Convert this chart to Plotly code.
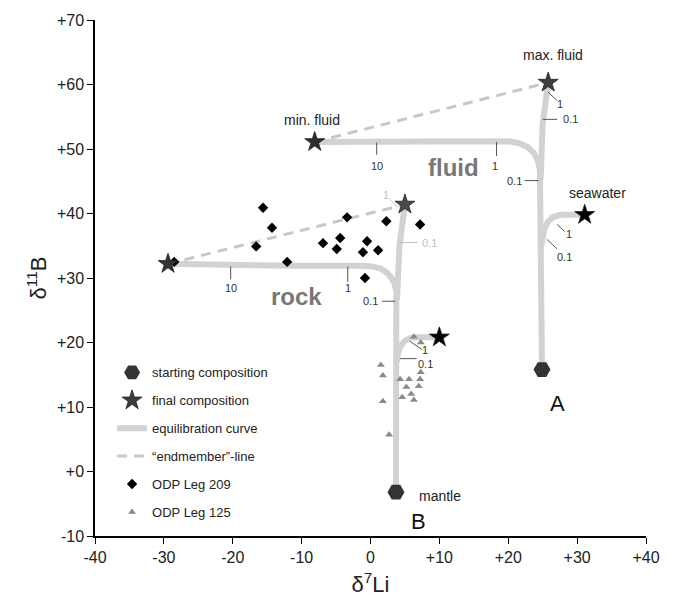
import plotly.graph_objects as go

FONT = "Liberation Sans, Arial, Helvetica, sans-serif"

# ---------------- data ----------------
x_ticks = [-40, -30, -20, -10, 0, 10, 20, 30, 40]
x_ticktext = ["-40", "-30", "-20", "-10", "0", "+10", "+20", "+30", "+40"]
y_ticks = [-10, 0, 10, 20, 30, 40, 50, 60, 70]
y_ticktext = ["-10", "+0", "+10", "+20", "+30", "+40", "+50", "+60", "+70"]

# equilibration curves
curveA_x = [24.9, 24.7, 24.7, 24.6, 24.3, 23.7, 22.8, 21.6, 20.2, 18.5, -8.1]
curveA_y = [15.8, 40.0, 45.3, 46.8, 48.2, 49.4, 50.3, 50.9, 51.15, 51.2, 51.1]
curveA_up_x = [24.7, 25.0, 25.8]
curveA_up_y = [45.3, 54.0, 60.3]
curveA_sea_x = [24.8, 24.9, 25.2, 25.7, 26.4, 27.6, 31.1]
curveA_sea_y = [35.0, 36.3, 37.5, 38.6, 39.4, 39.8, 39.8]

curveB_x = [3.7, 3.85, 3.85, 3.75, 3.5, 3.0, 2.3, 1.4, 0.2, -1.5, -12.0, -29.4]
curveB_y = [-3.2, 20.0, 26.6, 27.9, 29.1, 30.1, 30.9, 31.5, 31.8, 31.9, 31.9, 32.2]
curveB_up_x = [3.85, 4.2, 5.0]
curveB_up_y = [26.6, 35.0, 41.4]
curveB_br_x = [3.85, 3.95, 4.3, 4.9, 5.8, 6.8, 10.0]
curveB_br_y = [17.0, 18.2, 19.3, 20.2, 20.7, 20.8, 20.8]

# endmember lines
endA_x = [-8.1, 25.8]
endA_y = [51.1, 60.3]
endB_x = [-29.4, 5.0]
endB_y = [32.2, 41.4]

# starting compositions (hexagons)
start_x = [24.9, 3.7]
start_y = [15.8, -3.2]

# final compositions (stars)
final_x = [25.8, -8.1, 5.0, -29.4, 31.1, 10.0]
final_y = [60.3, 51.1, 41.4, 32.2, 39.8, 20.8]
final_col = ["#3d3d3d", "#2e2e2e", "#4a4a4a", "#333333", "#000000", "#000000"]

# ODP Leg 209 (diamonds)
leg209_x = [-15.6, -14.3, -16.6, -12.1, -6.9, -4.4, -4.9, -3.4, -0.5, -1.1, 1.1, 2.3, 7.2, -0.8, -28.5]
leg209_y = [40.9, 37.8, 34.9, 32.5, 35.4, 36.2, 34.5, 39.4, 35.7, 34.0, 34.3, 38.8, 38.3, 30.0, 32.5]

# ODP Leg 125 (triangles)
leg125_x = [6.3, 7.3, 1.5, 1.8, 4.3, 5.6, 7.2, 7.3, 5.2, 7.0, 5.9, 4.6, 6.3, 1.8, 2.7]
leg125_y = [20.9, 20.0, 16.5, 14.9, 14.3, 14.3, 14.3, 15.4, 13.1, 13.2, 12.0, 11.5, 11.1, 10.9, 5.7]

# small tick marks along curves (dark)
tick_x = [0.9, 0.9, None, 18.3, 18.3, None, 22.4, 24.4, None, 25.8, 27.1, None,
          25.0, 27.1, None, 27.1, 28.2, None, 25.6, 27.1, None,
          -20.3, -20.3, None, -3.3, -3.3, None, 1.7, 3.6, None,
          5.7, 7.5, None, 4.3, 6.7]
tick_y = [51.0, 49.1, None, 51.1, 48.9, None, 45.1, 45.1, None, 58.8, 57.5, None,
          54.6, 54.6, None, 38.3, 37.2, None, 36.0, 34.5, None,
          31.8, 29.8, None, 31.8, 29.4, None, 26.4, 26.4, None,
          20.2, 18.9, None, 17.5, 17.5]
# light tick marks (rock endmember)
ltick_x = [2.8, 4.0, None, 4.3, 6.9]
ltick_y = [42.2, 40.9, None, 35.5, 35.5]

# curve tick labels: text, x, y, anchor
tlab_text = ["10", "1", "0.1", "1", "0.1", "1", "0.1", "10", "1", "0.1", "1", "0.1"]
tlab_x = [0.9, 18.1, 22.3, 27.5, 27.6, 28.8, 28.2, -20.3, -3.3, 1.4, 7.9, 6.6]
tlab_y = [47.3, 47.3, 45.1, 57.0, 54.6, 36.9, 33.2, 28.5, 28.4, 26.4, 18.8, 16.7]
tlab_anchor = ["center", "center", "right", "center", "left", "center", "center",
               "center", "center", "right", "center", "left"]
ltlab_text = ["1", "0.1"]
ltlab_x = [2.2, 7.2]
ltlab_y = [42.9, 35.5]
ltlab_anchor = ["center", "left"]

# point labels
plab_text = ["max. fluid", "min. fluid", "seawater", "mantle"]
plab_x = [26.5, -4.1, 28.5, 6.8]
plab_y = [64.5, 54.5, 43.2, -3.8]
plab_anchor = ["center", "right", "left", "left"]

big_text = ["fluid", "rock"]
big_x = [12.0, -10.7]
big_y = [47.2, 27.1]

letter_text = ["A", "B"]
letter_x = [27.2, 6.9]
letter_y = [10.6, -7.8]

# ---------------- figure ----------------
CURVE = "#d2d2d2"
fig = go.Figure()

curves = [(curveA_x, curveA_y), (curveA_up_x, curveA_up_y), (curveA_sea_x, curveA_sea_y),
          (curveB_x, curveB_y), (curveB_up_x, curveB_up_y), (curveB_br_x, curveB_br_y)]
for i, (cx, cy) in enumerate(curves):
    fig.add_trace(go.Scatter(x=cx, y=cy, mode="lines",
                             line=dict(color=CURVE, width=6),
                             name="equilibration curve", legendgroup="curve",
                             showlegend=(i == 0), legendrank=3, hoverinfo="skip"))

for i, (ex, ey) in enumerate([(endA_x, endA_y), (endB_x, endB_y)]):
    fig.add_trace(go.Scatter(x=ex, y=ey, mode="lines",
                             line=dict(color="#c8c8c8", width=3, dash="10px,7px"),
                             name="\u201cendmember\u201d-line", legendgroup="end",
                             showlegend=(i == 0), legendrank=4, hoverinfo="skip"))

fig.add_trace(go.Scatter(x=tick_x, y=tick_y, mode="lines", line=dict(color="#555", width=1),
                         showlegend=False, hoverinfo="skip"))
fig.add_trace(go.Scatter(x=ltick_x, y=ltick_y, mode="lines", line=dict(color="#c4c4c4", width=1),
                         showlegend=False, hoverinfo="skip"))

fig.add_trace(go.Scatter(x=leg125_x, y=leg125_y, mode="markers",
                         marker=dict(symbol="triangle-up", size=7, color="#8a8a8a"),
                         name="ODP Leg 125", legendgroup="l125", legendrank=6))
fig.add_trace(go.Scatter(x=leg209_x, y=leg209_y, mode="markers",
                         marker=dict(symbol="diamond", size=8, color="#000"),
                         name="ODP Leg 209", legendgroup="l209", legendrank=5))
fig.add_trace(go.Scatter(x=start_x, y=start_y, mode="markers",
                         marker=dict(symbol="hexagon2", size=17, color="#333"),
                         name="starting composition", legendgroup="start", legendrank=1))
fig.add_trace(go.Scatter(x=final_x, y=final_y, mode="markers",
                         marker=dict(symbol="star", size=15, color=final_col,
                                     line=dict(color="#222", width=0.8)),
                         name="final composition", legendgroup="final", legendrank=2))

ann = []
for t, x, y, a in zip(tlab_text, tlab_x, tlab_y, tlab_anchor):
    ann.append(dict(x=x, y=y, text=t, xanchor=a, yanchor="middle", showarrow=False,
                    font=dict(size=11, color="#333", family=FONT)))
for t, x, y, a in zip(ltlab_text, ltlab_x, ltlab_y, ltlab_anchor):
    ann.append(dict(x=x, y=y, text=t, xanchor=a, yanchor="middle", showarrow=False,
                    font=dict(size=11, color="#c0c0c0", family=FONT)))
for t, x, y, a in zip(plab_text, plab_x, plab_y, plab_anchor):
    ann.append(dict(x=x, y=y, text=t, xanchor=a, yanchor="middle", showarrow=False,
                    font=dict(size=14, color="#222", family=FONT)))
for t, x, y in zip(big_text, big_x, big_y):
    ann.append(dict(x=x, y=y, text="<b>" + t + "</b>", xanchor="center", yanchor="middle",
                    showarrow=False, font=dict(size=24, color="#777", family=FONT)))
for t, x, y in zip(letter_text, letter_x, letter_y):
    ann.append(dict(x=x, y=y, text=t, xanchor="center", yanchor="middle", showarrow=False,
                    font=dict(size=22, color="#111", family=FONT)))

fig.update_layout(
    width=682, height=605,
    margin=dict(l=95, r=36, t=19, b=66),
    paper_bgcolor="white", plot_bgcolor="white",
    font=dict(family=FONT, color="#222"),
    annotations=ann,
    showlegend=True,
    legend=dict(x=0.031, y=0.346, xanchor="left", yanchor="top",
                font=dict(size=13, color="#222", family=FONT),
                bgcolor="rgba(0,0,0,0)", tracegroupgap=8, itemwidth=30),
    xaxis=dict(range=[-40, 40], tickvals=x_ticks, ticktext=x_ticktext,
               showline=True, linecolor="black", linewidth=1.5, ticks="outside",
               ticklen=6, tickcolor="black", tickwidth=1.2, showgrid=False, zeroline=False,
               tickfont=dict(size=16, color="#222"),
               title=dict(text="\u03b4<sup>7</sup>Li", font=dict(size=22, color="#222"), standoff=12)),
    yaxis=dict(range=[-10, 70], tickvals=y_ticks, ticktext=y_ticktext,
               showline=True, linecolor="black", linewidth=1.5, ticks="outside",
               ticklen=6, tickcolor="black", tickwidth=1.2, showgrid=False, zeroline=False,
               tickfont=dict(size=16, color="#222"),
               title=dict(text="\u03b4<sup>11</sup>B", font=dict(size=22, color="#222"), standoff=4)),
)

fig.write_html("out.html")
